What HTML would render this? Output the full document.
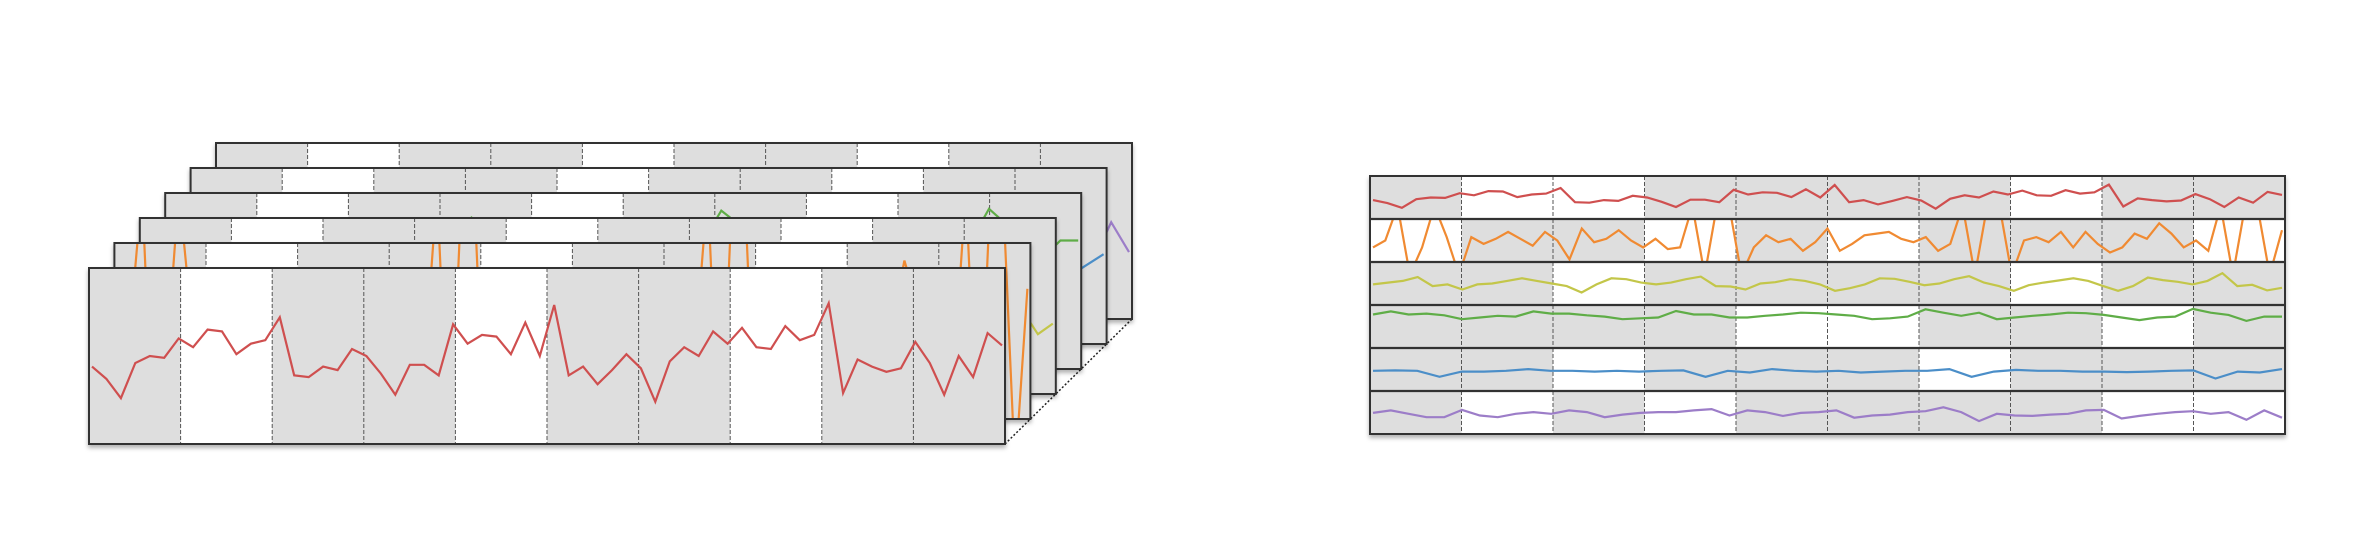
<!DOCTYPE html>
<html><head><meta charset="utf-8"><style>
html,body{margin:0;padding:0;background:#fff;}
svg{display:block;font-family:"Liberation Sans",sans-serif;}
</style></head><body>
<svg id="c" width="2370" height="552" viewBox="0 0 2370 552" xmlns="http://www.w3.org/2000/svg">
<defs>
<filter id="sh" x="-5%" y="-5%" width="110%" height="120%"><feDropShadow dx="0" dy="3" stdDeviation="2" flood-color="#000" flood-opacity="0.3"/></filter>
</defs>
<g id="left"></g>
<g id="right"></g>
</svg>
<script>
const seriesNames = ['red','orange','yellow','green','blue','purple'];
const seriesColors = ['#cf4f4f','#f08a30','#c3c64a','#5fad47','#4b8ec8','#9c7dc8'];
const redValues = [44,37,26,46,50,49,60,55,65,64,51,57,59,72,39,38,44,42,54,50,40,28,45,45,39,68,57,62,61,51,69,50,79,39,44,34,42,51,43,24,47,55,50,64,57,66,55,54,67,59,62,80,29,48,44,41,43,58,46,28,50,38,63,56];
const orangeValues = [34,50,130,-30,34,130,58,-30,58,42,54,70,54,38,70,50,6,78,46,54,74,50,34,54,30,34,130,-30,130,130,-30,34,62,46,54,26,46,78,26,42,62,66,70,54,46,58,26,42,130,-30,130,130,-30,50,58,46,70,34,70,42,22,34,66,54,90,66,34,50,26,130,-30,130,130,-30,74];
const yellowValues = [48,52,56,65,44,48,36,48,50,56,62,56,50,44,29,48,62,60,52,48,52,60,66,44,43,36,50,53,60,56,48,33,39,48,62,61,54,46,50,60,67,52,44,33,46,52,57,62,56,44,33,44,64,58,54,48,56,74,44,47,34,40];
const greenValues = [78,85,78,80,76,67,71,75,73,85,80,80,76,73,67,69,71,86,78,78,71,71,75,78,82,81,78,75,67,69,73,90,82,75,82,67,71,75,78,82,81,77,71,65,71,73,91,82,77,63,73,73];
const blueValues = [47,48,47,33,45,45,47,51,47,47,45,47,45,47,48,33,47,43,51,47,45,47,43,45,47,47,51,33,45,49,47,47,45,45,44,45,47,48,29,45,43,51];
const purpleValues = [49,55,47,39,39,56,43,39,47,51,47,55,51,39,45,49,51,51,55,58,43,55,51,42,49,51,55,38,43,45,51,53,62,51,30,47,43,42,45,47,55,56,36,42,47,51,53,47,51,33,55,38];
const allValues = [redValues,orangeValues,yellowValues,greenValues,blueValues,purpleValues];
// white (unshaded) segments per row in the flat panel, 10 segments
const rightWhiteCols = [[1,2,7],[0,3,5,9],[2,7],[4,5,8],[2,6],[1,3,8,9]];
const leftWhiteCols = [1,4,7];
const nSeg = 10;
const NS='http://www.w3.org/2000/svg';
function el(tag, attrs, parent){const e=document.createElementNS(NS,tag);for(const k in attrs)e.setAttribute(k,attrs[k]);parent.appendChild(e);return e;}
function yScale(v, top, h){return top + h*(1 - v/100);}
function xScale(i, n, left, w){return left + 3 + (w-6)*i/(n-1);}
function linePath(vals, left, top, w, h){
  return vals.map((v,i)=>(i?'L':'M')+xScale(i,vals.length,left,w).toFixed(1)+','+yScale(v,top,h).toFixed(1)).join(' ');
}
const svg=document.getElementById('c');
const defs=svg.querySelector('defs');
// ---- left 3D stack ----
const L=document.getElementById('left');
const PW=916, PH=176, X0=89, Y0=268, DX=25.4, DY=-25;
const backX=X0+5*DX, backY=Y0+5*DY;
const dl=el('g',{},L);


el('line',{x1:X0+PW,y1:Y0,x2:backX+PW,y2:backY,stroke:'#222','stroke-width':1.5,'stroke-dasharray':'2,2'},dl);
el('line',{x1:X0+PW,y1:Y0+PH,x2:backX+PW,y2:backY+PH,stroke:'#222','stroke-width':1.5,'stroke-dasharray':'2,2'},dl);
for(let k=5;k>=0;k--){
  const px=X0+k*DX, py=Y0+k*DY;
  const g=el('g',{filter:'url(#sh)'},L);
  
  
  el('rect',{x:px,y:py,width:PW,height:PH,fill:'#dedede'},g);
  const cw=PW/nSeg;
  for(const c of leftWhiteCols){el('rect',{x:px+c*cw,y:py,width:cw,height:PH,fill:'#fff'},g);}
  for(let c=1;c<nSeg;c++){el('line',{x1:px+c*cw,y1:py,x2:px+c*cw,y2:py+PH,stroke:'#555','stroke-width':1,'stroke-dasharray':'4,2'},g);}
  const cp=el('clipPath',{id:'lc'+k},defs);
  el('rect',{x:px,y:py,width:PW,height:PH},cp);
  const p=el('path',{d:linePath(allValues[k],px,py,PW,PH),fill:'none',stroke:seriesColors[k],'stroke-width':2.2,'clip-path':'url(#lc'+k+')'},g);
  
  
  el('rect',{x:px,y:py,width:PW,height:PH,fill:'none',stroke:'#333','stroke-width':2},g);
}
// ---- right flat panel ----
const R=document.getElementById('right');
const RX=1370, RY=176, RW=915, RH=258, rh=RH/6, rcw=RW/nSeg;
const rg=el('g',{filter:'url(#sh)'},R);
el('rect',{x:RX,y:RY,width:RW,height:RH,fill:'#dedede'},rg);
for(let r=0;r<6;r++){
  const ry=RY+r*rh;
  const row=el('g',{},rg);
  
  
  for(const c of rightWhiteCols[r]){el('rect',{x:RX+c*rcw,y:ry,width:rcw,height:rh,fill:'#fff'},row);}
  for(let c=1;c<nSeg;c++){el('line',{x1:RX+c*rcw,y1:ry,x2:RX+c*rcw,y2:ry+rh,stroke:'#555','stroke-width':1,'stroke-dasharray':'4,2'},row);}
  const cp=el('clipPath',{id:'rc'+r},defs);
  el('rect',{x:RX,y:ry+1,width:RW,height:rh-2},cp);
  const p=el('path',{d:linePath(allValues[r],RX,ry,RW,rh),fill:'none',stroke:seriesColors[r],'stroke-width':2.2,'clip-path':'url(#rc'+r+')'},row);
  
  
  if(r>0) el('line',{x1:RX,y1:ry,x2:RX+RW,y2:ry,stroke:'#333','stroke-width':2.2},row);
}
el('rect',{x:RX,y:RY,width:RW,height:RH,fill:'none',stroke:'#333','stroke-width':2},rg);
</script>
</body></html>
